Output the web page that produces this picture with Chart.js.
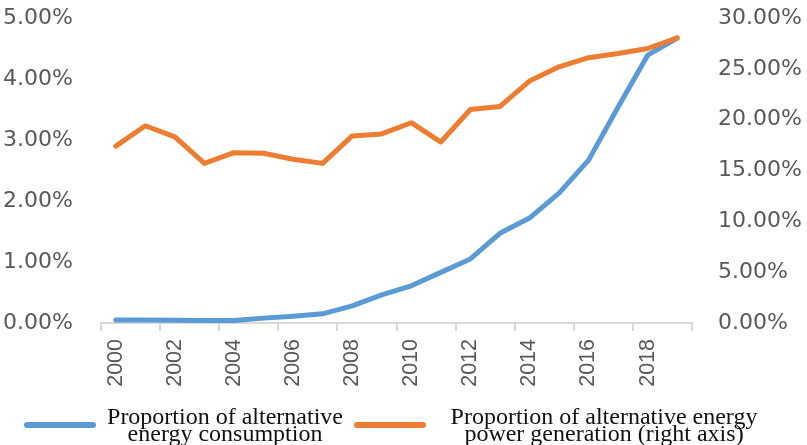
<!DOCTYPE html>
<html>
<head>
<meta charset="utf-8">
<script src="https://cdn.jsdelivr.net/npm/chart.js@4.4.1/dist/chart.umd.min.js"></script>
<style>
  html, body { margin: 0; padding: 0; background: #fff; }
  #wrap { position: relative; width: 807px; height: 445px; }
</style>
</head>
<body>
<div id="wrap"><canvas id="chart"></canvas></div>
<script>
// years on the category axis
const years = ['2000', '2001', '2002', '2003', '2004', '2005', '2006', '2007', '2008', '2009',
  '2010', '2011', '2012', '2013', '2014', '2015', '2016', '2017', '2018', '2019'];

// share of alternative energy in consumption (%, left axis)
const consumptionShare = [0.05, 0.05, 0.045, 0.04, 0.04, 0.08, 0.11, 0.15, 0.28, 0.46,
  0.61, 0.83, 1.05, 1.47, 1.72, 2.13, 2.67, 3.54, 4.39, 4.67];

// share of alternative energy in power generation (%, right axis)
const generationShare = [17.4, 19.4, 18.3, 15.7, 16.75, 16.7, 16.1, 15.7, 18.4, 18.6,
  19.7, 17.8, 21.0, 21.3, 23.8, 25.2, 26.1, 26.5, 27.0, 28.05];

// legend text, split the way the original wraps it
const legendLines = [
  ['Proportion of alternative', 'energy consumption'],
  ['Proportion of alternative energy', 'power generation (right axis)']
];

const yFont = { family: "'DejaVu Sans', Verdana, sans-serif", size: 22 };
const xFont = { family: "'Liberation Sans', Arial, sans-serif", size: 21.5 };
const labelGray = '#595959';
const noTick = 'rgba(0,0,0,0)';

// legend drawn under the axis, two wrapped lines per entry
const legendPlugin = {
  id: 'wrappedLegend',
  afterDraw(chart) {
    const ctx = chart.ctx;
    const items = [
      { color: chart.data.datasets[0].borderColor, x0: 27, x1: 93, cx: 225 },
      { color: chart.data.datasets[1].borderColor, x0: 357, x1: 423, cx: 604 }
    ];
    ctx.save();
    items.forEach((it, i) => {
      ctx.strokeStyle = it.color;
      ctx.lineWidth = 6;
      ctx.lineCap = 'round';
      ctx.beginPath();
      ctx.moveTo(it.x0, 425);
      ctx.lineTo(it.x1, 425);
      ctx.stroke();

      ctx.fillStyle = '#111';
      ctx.font = "24px 'Liberation Serif', 'Times New Roman', serif";
      ctx.textAlign = 'center';
      ctx.textBaseline = 'alphabetic';
      legendLines[i].forEach((line, j) => {
        ctx.fillText(line, it.cx, 424 + j * 17);
      });
    });
    ctx.restore();
  }
};

new Chart(document.getElementById('chart'), {
  type: 'line',
  data: {
    labels: years,
    datasets: [
      {
        label: 'Proportion of alternative energy consumption',
        data: consumptionShare,
        yAxisID: 'y',
        borderColor: '#5b9bd5',
        backgroundColor: '#5b9bd5',
        borderWidth: 5,
        pointRadius: 0,
        tension: 0,
        borderCapStyle: 'round',
        borderJoinStyle: 'round',
        order: 1
      },
      {
        label: 'Proportion of alternative energy power generation (right axis)',
        data: generationShare,
        yAxisID: 'y1',
        borderColor: '#ed7d31',
        backgroundColor: '#ed7d31',
        borderWidth: 5,
        pointRadius: 0,
        tension: 0,
        borderCapStyle: 'round',
        borderJoinStyle: 'round',
        order: 0
      }
    ]
  },
  options: {
    responsive: true,
    maintainAspectRatio: false,
    animation: false,
    layout: { padding: { top: 18, left: 0, right: 0, bottom: 0 } },
    plugins: {
      legend: { display: false },
      tooltip: { enabled: false }
    },
    scales: {
      x: {
        offset: true,
        grid: {
          offset: true,
          drawOnChartArea: false,
          drawTicks: true,
          tickLength: 8,
          lineWidth: 2,
          tickColor: (c) => (c.index === undefined || c.index % 2 === 0) ? '#d9d9d9' : noTick
        },
        border: { display: true, color: '#d9d9d9', width: 2 },
        ticks: {
          autoSkip: false,
          minRotation: 90,
          maxRotation: 90,
          padding: 8,
          color: labelGray,
          font: xFont,
          callback: function (v, i) { return i % 2 === 0 ? this.getLabelForValue(v) : ''; }
        },
        afterFit: (s) => { s.height = 122; }
      },
      y: {
        position: 'left',
        min: 0,
        max: 5,
        // invisible tick marks keep the labels away from the plot
        grid: { drawOnChartArea: false, drawTicks: true, tickLength: 26, tickColor: noTick },
        border: { display: false },
        ticks: {
          stepSize: 1,
          padding: 2,
          color: labelGray,
          font: yFont,
          callback: (v) => v.toFixed(2) + '%'
        },
        afterFit: (s) => { s.width = 101; }
      },
      y1: {
        position: 'right',
        min: 0,
        max: 30,
        grid: { drawOnChartArea: false, drawTicks: true, tickLength: 24, tickColor: noTick },
        border: { display: false },
        ticks: {
          stepSize: 5,
          padding: 2,
          color: labelGray,
          font: yFont,
          callback: (v) => v.toFixed(2) + '%'
        },
        afterFit: (s) => { s.width = 115; }
      }
    }
  },
  plugins: [legendPlugin]
});
</script>
</body>
</html>
